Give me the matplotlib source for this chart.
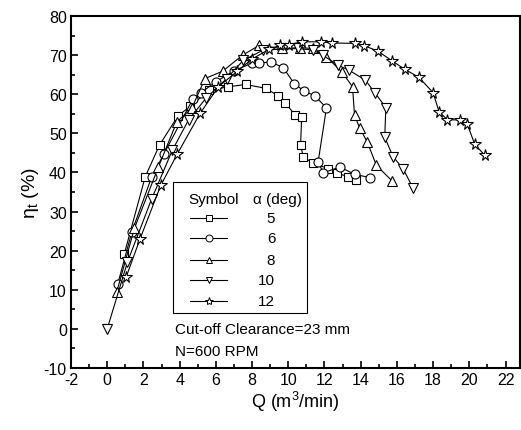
import matplotlib
matplotlib.use("Agg")
import matplotlib.pyplot as plt
from matplotlib.ticker import MultipleLocator
from matplotlib.patches import Rectangle

plt.rcParams["font.family"] = ["Liberation Sans", "DejaVu Sans"]
plt.rcParams["axes.unicode_minus"] = False
plt.rcParams["mathtext.fontset"] = "custom"
plt.rcParams["mathtext.rm"] = "Liberation Sans"

# alpha = 5 deg
q5 = [0.94, 2.1, 2.89, 3.9, 4.6, 5.64, 6.69, 7.65, 8.75, 9.45, 9.82, 10.37, 10.74,
      10.68, 10.83, 11.38, 12.2, 12.67, 13.3, 13.73]
e5 = [19.1, 38.9, 47.0, 54.4, 57.0, 61.0, 61.9, 62.5, 61.5, 59.6, 57.8, 54.8, 54.2,
      47.0, 44.0, 42.3, 41.0, 39.9, 38.9, 38.0]
# alpha = 6 deg
q6 = [0.59, 1.36, 2.46, 3.14, 4.72, 5.18, 6.01, 7.0, 7.98, 8.4, 9.03, 9.72, 10.33,
      10.88, 11.47, 12.11, 11.65, 11.93, 12.85, 13.68, 14.5]
e6 = [11.6, 24.8, 38.9, 44.8, 58.7, 60.4, 63.2, 66.0, 67.9, 67.9, 68.3, 66.8, 62.7,
      60.8, 59.6, 56.5, 42.7, 39.9, 41.4, 39.5, 38.7]
# alpha = 8 deg
q8 = [0.53, 1.5, 2.83, 3.84, 4.67, 5.4, 6.38, 7.48, 8.4, 9.63, 10.64, 11.38, 12.1,
      12.98, 13.55, 13.66, 13.94, 14.36, 14.87, 15.72]
e8 = [9.5, 25.7, 41.4, 52.9, 56.4, 64.0, 65.9, 70.0, 72.5, 71.7, 71.9, 71.7, 69.6,
      65.6, 61.9, 54.6, 51.4, 47.8, 41.8, 37.9]
# alpha = 10 deg
q10 = [0.0, 1.12, 2.46, 3.6, 4.49, 5.46, 6.6, 7.52, 8.62, 10.55, 11.35, 11.9, 12.76,
       13.37, 14.26, 14.78, 15.39, 15.33, 15.79, 16.34, 16.9]
e10 = [0.0, 17.1, 33.3, 45.7, 53.4, 59.0, 64.0, 68.7, 71.3, 71.7, 71.3, 70.0, 67.4,
       66.1, 63.6, 60.4, 56.6, 49.0, 44.0, 41.0, 35.9]
# alpha = 12 deg
q12 = [1.05, 1.82, 2.96, 3.88, 5.13, 6.14, 7.19, 8.0, 8.95, 9.54, 10.05, 10.74, 11.8,
       12.4, 13.68, 14.2, 14.96, 15.74, 16.43, 17.22, 18.0, 18.33, 18.79, 19.47,
       19.89, 20.3, 20.85]
e12 = [13.3, 23.1, 36.7, 44.8, 55.1, 61.9, 65.9, 69.0, 71.5, 72.5, 72.7, 73.4, 73.4,
       73.1, 73.0, 72.4, 71.0, 68.5, 66.4, 64.3, 60.4, 55.5, 53.5, 53.4, 52.3, 47.2,
       44.4]

alphas = ["5", "6", "8", "10", "12"]
series = [(q5, e5), (q6, e6), (q8, e8), (q10, e10), (q12, e12)]
markers = ["s", "o", "^", "v", "*"]
sizes = [6, 6.5, 7, 7, 8.5]

fig = plt.figure(figsize=(5.21, 4.31), dpi=100)
ax = fig.add_axes([71 / 521, 62 / 431, 449 / 521, 352 / 431])

for (q, e), m, ms in zip(series, markers, sizes):
    ax.plot(q, e, color="black", lw=0.8, marker=m, ms=ms, mfc="white",
            mec="black", mew=0.8, zorder=3)

ax.set_xlim(-2, 22.8)
ax.set_ylim(-10, 80)
ax.xaxis.set_major_locator(MultipleLocator(2))
ax.xaxis.set_minor_locator(MultipleLocator(1))
ax.yaxis.set_major_locator(MultipleLocator(10))
ax.yaxis.set_minor_locator(MultipleLocator(5))
ax.tick_params(which="both", direction="in", top=False, right=False,
               labelsize=11.5, width=1.2)
ax.tick_params(which="major", length=5, pad=3)
ax.tick_params(which="minor", length=3)
for s in ax.spines.values():
    s.set_linewidth(1.5)

ax.set_xlabel("Q (m$^\\mathregular{3}$/min)", fontsize=13, labelpad=1)
ax.set_ylabel("\u03b7$_\\mathregular{t}$ (%)", fontsize=14, labelpad=2)

# legend box drawn by hand
x0, x1, y0, y1 = 0.227, 0.526, 0.156, 0.528
ax.add_patch(Rectangle((x0, y0), x1 - x0, y1 - y0, transform=ax.transAxes,
                       fill=False, ec="black", lw=0.8, zorder=4))
ax.text(0.262, 0.48, "Symbol", transform=ax.transAxes, fontsize=11,
        ha="left", va="center")
ax.text(0.405, 0.48, "\u03b1 (deg)", transform=ax.transAxes, fontsize=11,
        ha="left", va="center")
row_y = [0.425, 0.368, 0.308, 0.249, 0.189]
for lab, m, yy in zip(alphas, markers, row_y):
    ax.plot([0.265, 0.348], [yy, yy], transform=ax.transAxes, color="black",
            lw=0.8, marker=None, zorder=4)
    ax.plot([0.3065], [yy], transform=ax.transAxes, ls="none", marker=m,
            ms=5 if m != "*" else 6, mfc="white", mec="black", mew=0.7, zorder=5)
    ax.text(0.455, yy, lab, transform=ax.transAxes, fontsize=11,
            ha="right", va="center")

ax.text(0.232, 0.11, "Cut-off Clearance=23 mm", transform=ax.transAxes,
        fontsize=11, ha="left", va="center")
ax.text(0.232, 0.048, "N=600 RPM", transform=ax.transAxes,
        fontsize=11, ha="left", va="center")

fig.savefig("out.png", dpi=100)
